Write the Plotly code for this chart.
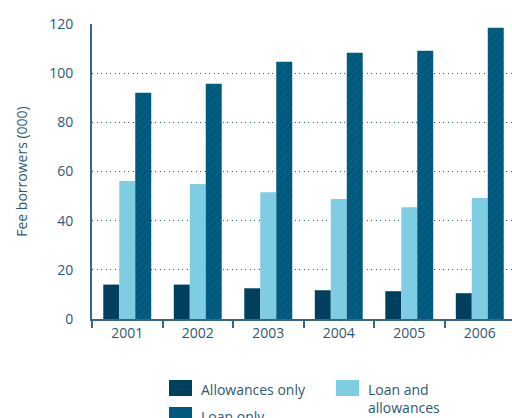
import plotly.graph_objects as go

years = ["2001", "2002", "2003", "2004", "2005", "2006"]
allowances_only = [14, 14, 12.5, 11.7, 11.3, 10.5]
loan_and_allowances = [56.1, 54.9, 51.6, 48.8, 45.5, 49.2]
loan_only = [92, 95.7, 104.6, 108.3, 109.1, 118.5]

y_ticks = [0, 20, 40, 60, 80, 100, 120]

TEXT = "#2d5877"
AXIS = "#3a6686"
DARK = "#003f5e"
LIGHT = "#7ecde2"
LOAN = "#00587c"
FONT = "Open Sans"

fig = go.Figure()
fig.add_trace(go.Bar(x=years, y=allowances_only, name="Allowances only",
                     marker=dict(color=DARK, line_width=0)))
fig.add_trace(go.Bar(x=years, y=loan_and_allowances, name="Loan and allowances",
                     marker=dict(color=LIGHT, line_width=0)))
fig.add_trace(go.Bar(x=years, y=loan_only, name="Loan only",
                     marker=dict(color=LOAN, line_width=0,
                                 pattern=dict(shape="/", fgcolor="#0d6a8f",
                                              size=5, solidity=0.3))))

fig.update_layout(
    barmode="group",
    bargap=0.32,
    bargroupgap=0,
    width=512, height=418,
    margin=dict(l=92, r=0, t=24, b=99),
    plot_bgcolor="white",
    paper_bgcolor="white",
    showlegend=False,
    font=dict(family=FONT, color=TEXT, size=14),
)

fig.update_xaxes(
    range=[-0.5, 5.457],
    showline=True, linecolor=AXIS, linewidth=2,
    ticks="outside", tickson="boundaries", ticklen=7, tickwidth=2, tickcolor=AXIS,
    showgrid=False,
    tickfont=dict(size=14, color=TEXT),
)
fig.update_yaxes(
    range=[0, 120],
    tickvals=y_ticks,
    showline=True, linecolor=AXIS, linewidth=2,
    ticks="", ticklabelstandoff=14,
    showgrid=True, gridcolor="#2d5877", griddash="1.2px,3.3px", gridwidth=1.2,
    zeroline=False,
    tickfont=dict(size=14, color=TEXT),
    title=dict(text="Fee borrowers (000)", font=dict(size=14, color=TEXT), standoff=18),
)

# Legend drawn as swatches and labels below the plot
legend_items = [
    ("Allowances only", DARK, 169, 380),
    ("Loan only", LOAN, 169, 407),
    ("Loan and<br>allowances", LIGHT, 336, 380),
]
for label, color, px, py in legend_items:
    fig.add_shape(type="rect", xref="paper", yref="paper",
                  x0=(px - 92) / 420, x1=(px + 23 - 92) / 420,
                  y0=(319 - py) / 295, y1=(319 - py - 16) / 295,
                  fillcolor=color, line_width=0)
    fig.add_annotation(text=label, xref="paper", yref="paper",
                       x=(px + 30 - 92) / 420, y=(319 - py + 2) / 295,
                       xanchor="left", yanchor="top", align="left",
                       showarrow=False, font=dict(size=14, color=TEXT, family=FONT))

fig.write_html("out.html")
